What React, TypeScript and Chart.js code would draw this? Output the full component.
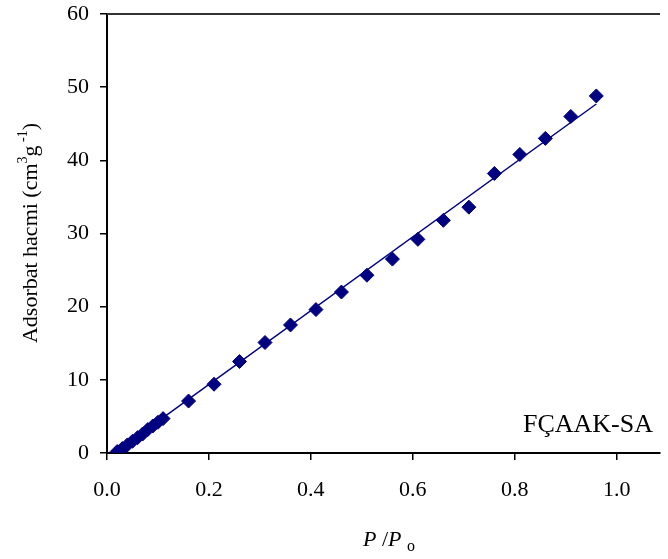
import React, { useEffect, useRef } from "react";
import { Chart, registerables } from "chart.js";

Chart.register(...registerables);

// Measured data (P/Po vs adsorbed volume)
const relPressure = [0.02, 0.03, 0.04, 0.05, 0.06, 0.07, 0.08, 0.09, 0.10, 0.11, 0.16, 0.21, 0.26, 0.31, 0.36, 0.41, 0.46, 0.51, 0.56, 0.61, 0.66, 0.71, 0.76, 0.81, 0.86, 0.91, 0.96];
const adsorbedVolume = [0.2, 0.6, 1.1, 1.6, 2.1, 2.6, 3.2, 3.7, 4.2, 4.7, 7.1, 9.4, 12.5, 15.1, 17.5, 19.6, 22.0, 24.3, 26.5, 29.2, 31.8, 33.6, 38.2, 40.8, 43.0, 46.0, 48.8];

// Linear trend line end points
const trendX = [0.02, 0.96];
const trendY = [0.3, 47.7];

// Tick labels
const xTicks = [0, 0.2, 0.4, 0.6, 0.8, 1.0];
const yTicks = [0, 10, 20, 30, 40, 50, 60];

const sampleLabel = "FÇAAK-SA";

const SERIF = "'Liberation Serif', 'Times New Roman', serif";
const NAVY = "#000080";

const overlayPlugin = {
  id: "overlay",
  afterDraw(chart: any) {
    const { ctx, chartArea } = chart;
    ctx.save();
    // top border
    ctx.strokeStyle = "#333";
    ctx.lineWidth = 2;
    ctx.beginPath();
    ctx.moveTo(chartArea.left, chartArea.top);
    ctx.lineTo(chartArea.right, chartArea.top);
    ctx.stroke();

    ctx.fillStyle = "#000";
    ctx.textBaseline = "alphabetic";

    // sample label
    ctx.font = `26px ${SERIF}`;
    ctx.textAlign = "right";
    ctx.fillText(sampleLabel, 653, 432);

    // x title: P/Po
    ctx.textAlign = "left";
    const big = `italic 22px ${SERIF}`;
    const up = `22px ${SERIF}`;
    const sub = `16px ${SERIF}`;
    const parts: [string, string, number][] = [
      ["P", big, 0],
      [" /", up, 0],
      ["P", big, 0],
      [" ", up, 0],
      ["o", sub, 5],
    ];
    let total = 0;
    for (const [t, f] of parts) {
      ctx.font = f;
      total += ctx.measureText(t).width;
    }
    let x = 389 - total / 2;
    for (const [t, f, dy] of parts) {
      ctx.font = f;
      ctx.fillText(t, x, 546 + dy);
      x += ctx.measureText(t).width;
    }

    // y title rotated
    ctx.translate(37, 233);
    ctx.rotate(-Math.PI / 2);
    const yParts: [string, string, number][] = [
      ["Adsorbat hacmi (cm", `22px ${SERIF}`, 0],
      ["3", `14px ${SERIF}`, -10],
      ["g", `22px ${SERIF}`, 0],
      [" -1", `14px ${SERIF}`, -10],
      [")", `22px ${SERIF}`, 0],
    ];
    let ytot = 0;
    for (const [t, f] of yParts) {
      ctx.font = f;
      ytot += ctx.measureText(t).width;
    }
    let yx = -ytot / 2;
    for (const [t, f, dy] of yParts) {
      ctx.font = f;
      ctx.fillText(t, yx, dy);
      yx += ctx.measureText(t).width;
    }
    ctx.restore();
  },
};

export default function App() {
  const ref = useRef<HTMLCanvasElement | null>(null);
  useEffect(() => {
    if (!ref.current) return;
    const chart = new Chart(ref.current, {
      type: "scatter",
      data: {
        datasets: [
          {
            type: "line",
            data: trendX.map((x, i) => ({ x, y: trendY[i] })),
            borderColor: NAVY,
            borderWidth: 1.5,
            pointRadius: 0,
            fill: false,
          } as any,
          {
            data: relPressure.map((x, i) => ({ x, y: adsorbedVolume[i] })),
            pointStyle: "rectRot",
            pointRadius: 7,
            pointBackgroundColor: NAVY,
            pointBorderColor: NAVY,
            pointBorderWidth: 1,
            showLine: false,
          },
        ],
      },
      options: {
        animation: false,
        responsive: false,
        layout: { padding: { top: 14, right: 0, left: 0, bottom: 0 } },
        plugins: {
          legend: { display: false },
          tooltip: { enabled: false },
        },
        scales: {
          x: {
            type: "linear",
            min: 0,
            max: 1.085,
            afterBuildTicks: (s: any) => {
              s.ticks = xTicks.map((v) => ({ value: v }));
            },
            afterFit: (s: any) => {
              s.height = 106;
              s.paddingLeft = 0;
              s.paddingRight = 0;
            },
            grid: {
              drawOnChartArea: false,
              drawTicks: true,
              tickLength: 7,
              color: "#000",
              lineWidth: 1.5,
            },
            border: { display: true, color: "#000", width: 2 },
            ticks: {
              color: "#000",
              font: { family: SERIF, size: 22 },
              padding: 17,
              maxRotation: 0,
              callback: (v: any) => Number(v).toFixed(1),
            },
          },
          y: {
            type: "linear",
            min: 0,
            max: 60,
            afterBuildTicks: (s: any) => {
              s.ticks = yTicks.map((v) => ({ value: v }));
            },
            afterFit: (s: any) => {
              s.width = 107;
              s.paddingTop = 0;
              s.paddingBottom = 0;
            },
            grid: {
              drawOnChartArea: false,
              drawTicks: true,
              tickLength: 7,
              color: "#000",
              lineWidth: 1.5,
            },
            border: { display: true, color: "#000", width: 2 },
            ticks: {
              color: "#000",
              font: { family: SERIF, size: 22 },
              padding: 11,
              callback: (v: any) => String(v),
            },
          },
        },
      },
      plugins: [overlayPlugin],
    });
    return () => chart.destroy();
  }, []);
  return (
    <div style={{ position: "absolute", left: 0, top: 0, width: 668, height: 559, background: "#fff" }}>
      <canvas ref={ref} width={668} height={559} />
    </div>
  );
}
